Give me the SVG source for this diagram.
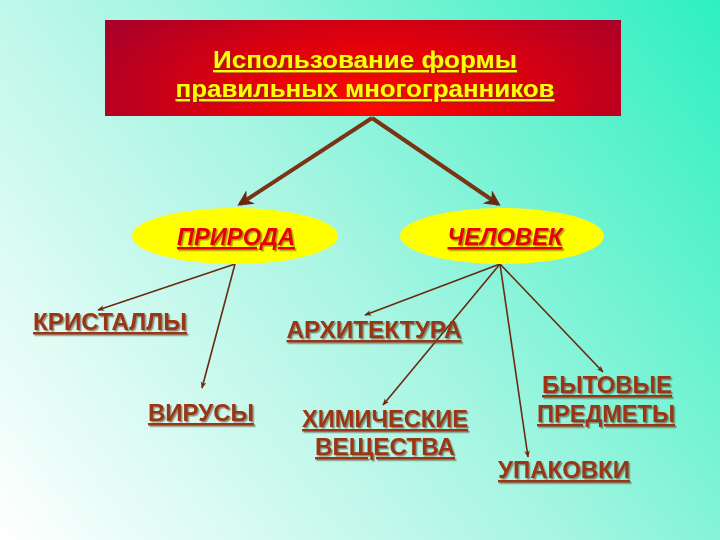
<svg xmlns="http://www.w3.org/2000/svg" width="720" height="540" viewBox="0 0 720 540">
<defs>
<linearGradient id="bg" x1="0" y1="540" x2="720" y2="0" gradientUnits="userSpaceOnUse">
<stop offset="0" stop-color="#ffffff"/>
<stop offset="0.5" stop-color="#a6f5e2"/>
<stop offset="1" stop-color="#2ef0c0"/>
</linearGradient>
<radialGradient id="red" cx="0.52" cy="0.75" r="0.6" fx="0.52" fy="0.8" gradientTransform="translate(0.5 0.75) scale(1 2.2) translate(-0.5 -0.75)">
<stop offset="0" stop-color="#ff0a00"/>
<stop offset="0.45" stop-color="#e0000c"/>
<stop offset="1" stop-color="#a8002a"/>
</radialGradient>
<filter id="sh" x="-10%" y="-30%" width="120%" height="160%">
<feDropShadow dx="1.5" dy="1.5" stdDeviation="0.6" flood-color="#5a3a20" flood-opacity="0.55"/>
</filter>
<marker id="big" viewBox="0 0 10 10" refX="8" refY="5" markerWidth="4" markerHeight="4" orient="auto" markerUnits="strokeWidth">
<path d="M0,0 L10,5 L0,10 L3,5 Z" fill="#6a2a10"/>
</marker>
<marker id="small" viewBox="0 0 10 10" refX="9" refY="5" markerWidth="7" markerHeight="7" orient="auto" markerUnits="userSpaceOnUse">
<path d="M0,1 L10,5 L0,9 L3,5 Z" fill="#6a2a10"/>
</marker>
</defs>
<style>
.lbl{font-family:"Liberation Sans",Arial,sans-serif;font-weight:bold;font-size:24px;fill:#9a3412;text-decoration:underline;filter:url(#sh)}
.ell{font-family:"Liberation Sans",Arial,sans-serif;font-weight:bold;font-style:italic;font-size:24px;fill:#e60000;text-decoration:underline;filter:url(#sh)}
.ttl{font-family:"Liberation Sans",Arial,sans-serif;font-weight:bold;font-size:23px;fill:#ffff00;text-decoration:underline;filter:url(#sh)}
.thick{stroke:#7a3414;stroke-width:4;fill:none;marker-end:url(#big)}
.thin{stroke:#6a2a10;stroke-width:1.6;fill:none;marker-end:url(#small)}
</style>
<rect width="720" height="540" fill="url(#bg)"/>

<g id="connectors">
<line class="thick" x1="372" y1="118" x2="240" y2="204"/>
<line class="thick" x1="372" y1="118" x2="498" y2="204"/>
<line class="thin" x1="235" y1="264" x2="98" y2="310"/>
<line class="thin" x1="235" y1="264" x2="202" y2="388"/>
<line class="thin" x1="500" y1="264" x2="365" y2="315"/>
<line class="thin" x1="500" y1="264" x2="383" y2="405"/>
<line class="thin" x1="500" y1="264" x2="528" y2="457"/>
<line class="thin" x1="500" y1="264" x2="603" y2="372"/>
</g>

<g id="title">
<rect x="105" y="20" width="516" height="96" fill="url(#red)"/>
<text class="ttl" x="365" y="68" text-anchor="middle" textLength="304" lengthAdjust="spacingAndGlyphs">Использование формы</text>
<text class="ttl" x="365" y="97" text-anchor="middle" textLength="379" lengthAdjust="spacingAndGlyphs">правильных многогранников</text>
</g>

<g id="priroda">
<ellipse cx="235" cy="236" rx="103" ry="28" fill="#ffff00"/>
<text class="ell" x="236" y="245" text-anchor="middle" textLength="118" lengthAdjust="spacingAndGlyphs">ПРИРОДА</text>
</g>
<g id="chelovek">
<ellipse cx="502" cy="236" rx="102" ry="28" fill="#ffff00"/>
<text class="ell" x="505" y="245" text-anchor="middle" textLength="115" lengthAdjust="spacingAndGlyphs">ЧЕЛОВЕК</text>
</g>

<g id="kristally"><text class="lbl" x="110" y="330" text-anchor="middle" textLength="154" lengthAdjust="spacingAndGlyphs">КРИСТАЛЛЫ</text></g>
<g id="virusy"><text class="lbl" x="201" y="421" text-anchor="middle" textLength="106" lengthAdjust="spacingAndGlyphs">ВИРУСЫ</text></g>
<g id="arhitektura"><text class="lbl" x="374" y="338" text-anchor="middle" textLength="175" lengthAdjust="spacingAndGlyphs">АРХИТЕКТУРА</text></g>
<g id="himicheskie">
<text class="lbl" x="385" y="427" text-anchor="middle" textLength="166" lengthAdjust="spacingAndGlyphs">ХИМИЧЕСКИЕ</text>
<text class="lbl" x="385" y="455" text-anchor="middle" textLength="140" lengthAdjust="spacingAndGlyphs">ВЕЩЕСТВА</text>
</g>
<g id="bytovye">
<text class="lbl" x="607" y="393" text-anchor="middle" textLength="130" lengthAdjust="spacingAndGlyphs">БЫТОВЫЕ</text>
<text class="lbl" x="606" y="422" text-anchor="middle" textLength="138" lengthAdjust="spacingAndGlyphs">ПРЕДМЕТЫ</text>
</g>
<g id="upakovki"><text class="lbl" x="564" y="478" text-anchor="middle" textLength="132" lengthAdjust="spacingAndGlyphs">УПАКОВКИ</text></g>
</svg>
